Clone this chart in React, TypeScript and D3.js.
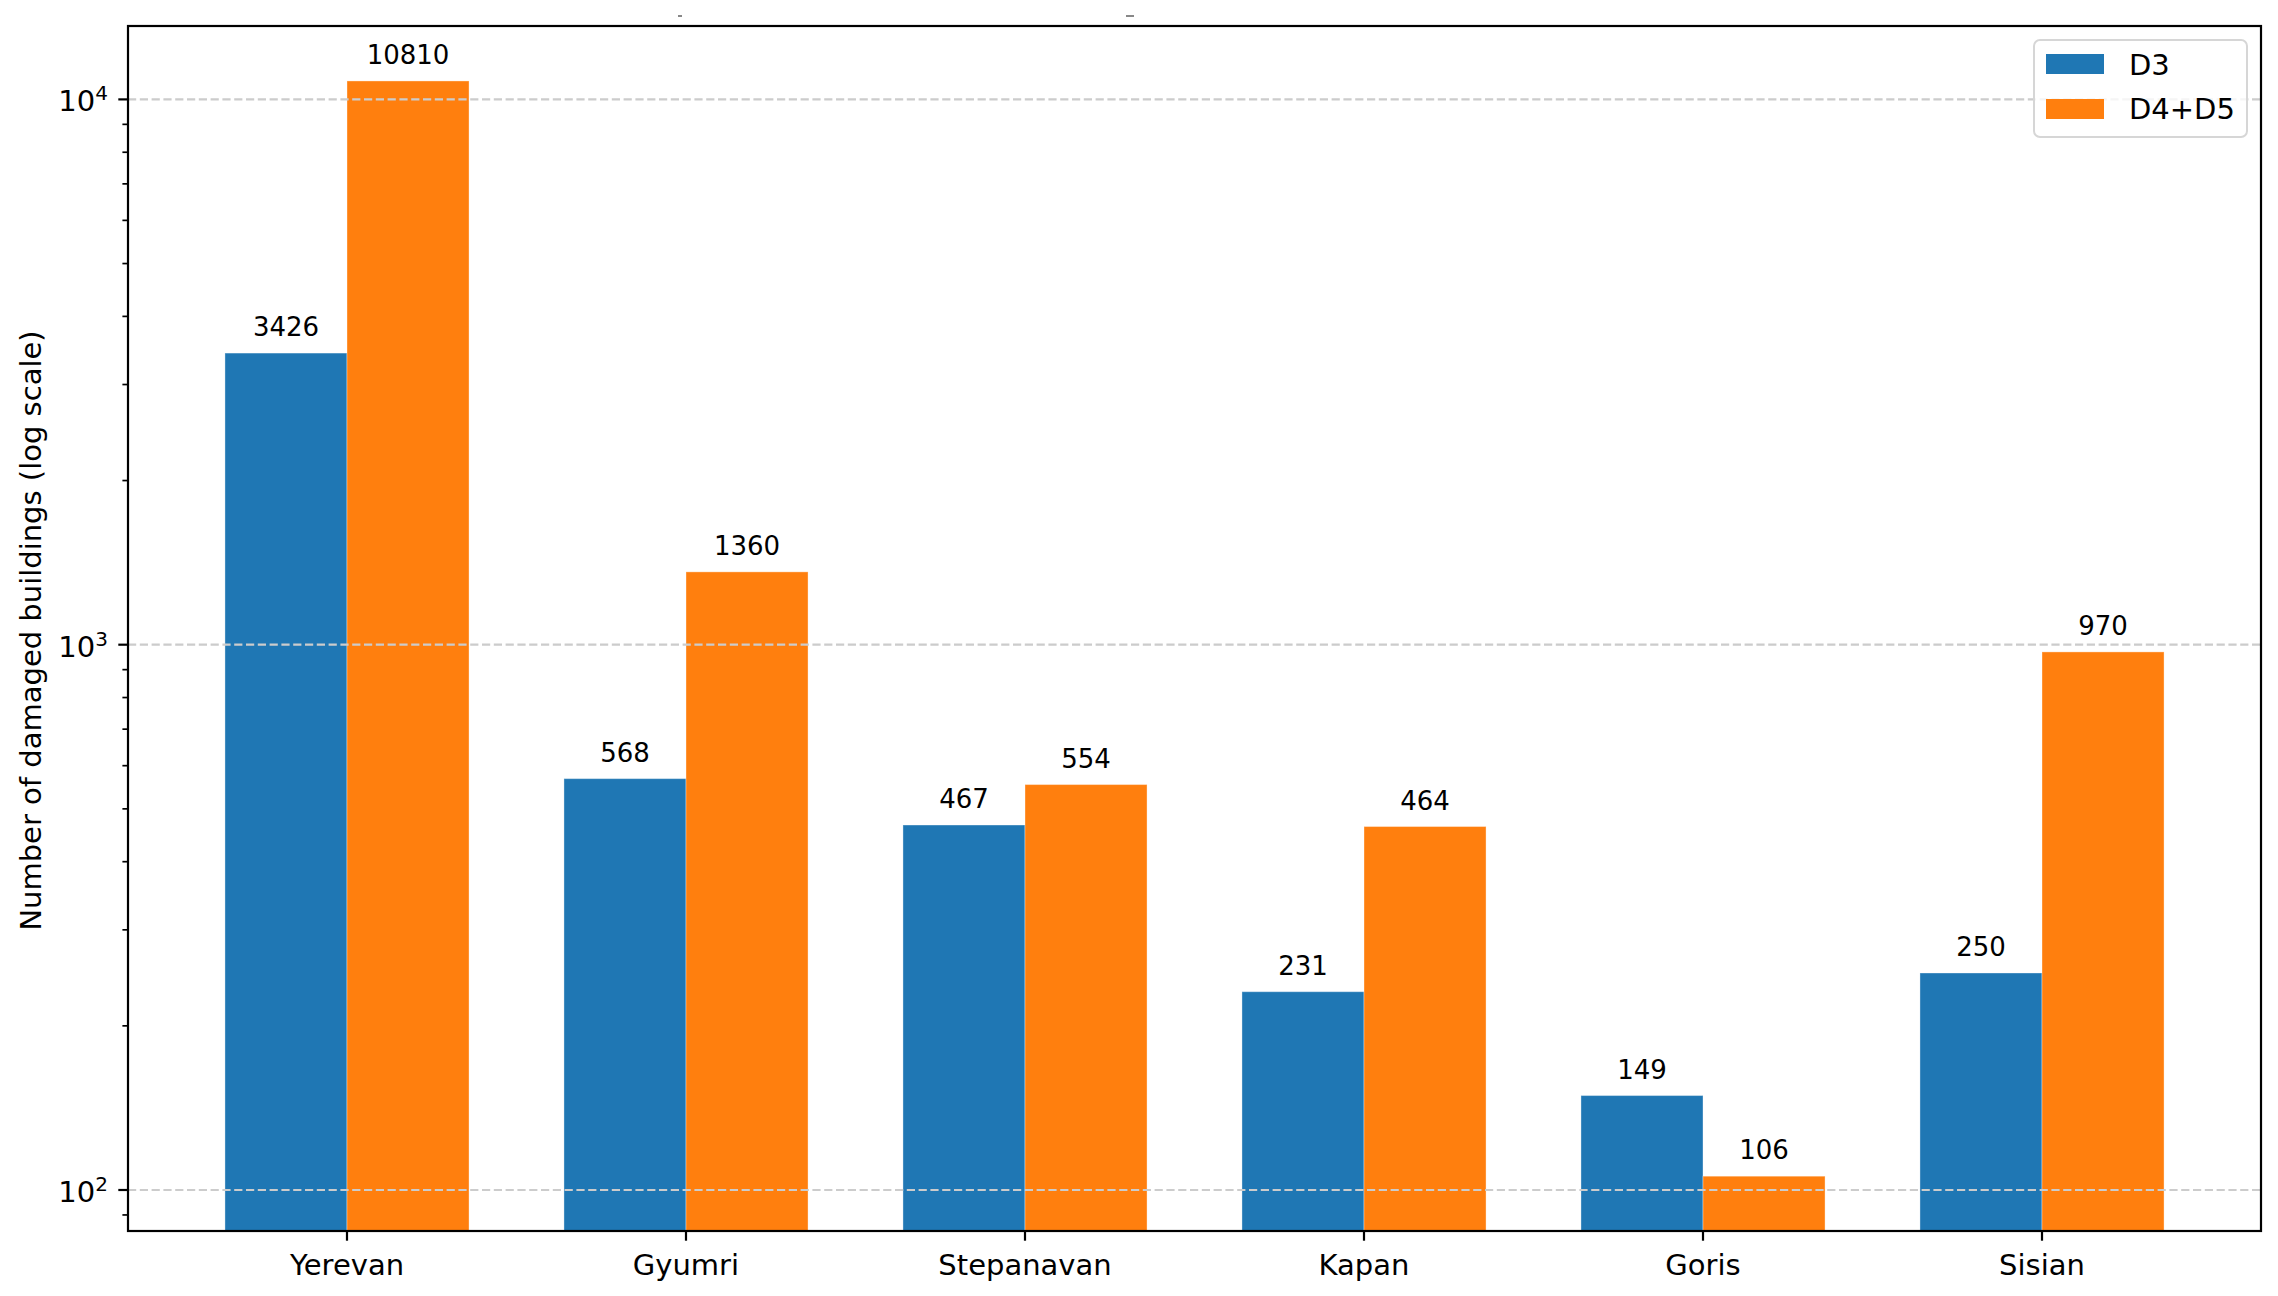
import React from "react";
import * as d3 from "d3";

const categories = ["Yerevan", "Gyumri", "Stepanavan", "Kapan", "Goris", "Sisian"];
const d3Values = [3426, 568, 467, 231, 149, 250];
const d45Values = [10810, 1360, 554, 464, 106, 970];
const seriesNames = ["D3", "D4+D5"];
const seriesColors = ["#1f77b4", "#ff7f0e"];
const majorTicks = [100, 1000, 10000];
const majorExp = ["2", "3", "4"];

const W = 2278;
const H = 1296;
const L = 128, R = 2261, T = 26, B = 1231;
const FONT = "DejaVu Sans, sans-serif";
const BAR_W = 0.36;

export default function App() {
  const x = d3.scaleLinear().domain([-0.646, 5.646]).range([L, R]);
  const y = d3.scaleLog().domain([Math.pow(10, 1.9248), Math.pow(10, 4.1346)]).range([B, T]);

  const minor: number[] = [];
  for (let e = 1; e <= 4; e++) {
    for (let m = 2; m <= 9; m++) {
      const v = m * Math.pow(10, e);
      if (v >= y.domain()[0] && v <= y.domain()[1]) minor.push(v);
    }
  }

  const series = [d3Values, d45Values];
  const px = (v: number) => x(v) - x(0);

  return (
    <svg width={W} height={H} style={{ position: "fixed", left: 0, top: 0, background: "#fff" }} fontFamily={FONT}>
      <rect x={0} y={0} width={W} height={H} fill="#fff" />
      {/* tiny remnants above plot */}
      <rect x={678} y={15} width={4} height={2} fill="#888" />
      <rect x={1126} y={15} width={8} height={2} fill="#888" />

      {/* bars */}
      {series.map((vals, si) =>
        vals.map((v, i) => {
          const cx = i + (si === 0 ? -BAR_W / 2 : BAR_W / 2);
          const x0 = x(cx - BAR_W / 2);
          const yt = y(v);
          return (
            <rect
              key={`b${si}-${i}`}
              x={x0}
              y={yt}
              width={px(BAR_W)}
              height={B - yt}
              fill={seriesColors[si]}
              stroke="#ffffff"
              strokeOpacity={0.35}
              strokeWidth={1}
            />
          );
        })
      )}

      {/* grid */}
      {majorTicks.map((t) => (
        <line key={`g${t}`} x1={L} x2={R} y1={y(t)} y2={y(t)} stroke="#cccccc" strokeWidth={2.2} strokeDasharray="8.2,3.6" />
      ))}

      {/* bar labels */}
      {series.map((vals, si) =>
        vals.map((v, i) => {
          const cx = i + (si === 0 ? -BAR_W / 2 : BAR_W / 2);
          return (
            <text key={`l${si}-${i}`} x={x(cx)} y={y(v) - 17} textAnchor="middle" fontSize={26} fill="#000">
              {v}
            </text>
          );
        })
      )}

      {/* spines */}
      <rect x={L} y={T} width={R - L} height={B - T} fill="none" stroke="#000" strokeWidth={2.2} />

      {/* y ticks */}
      {majorTicks.map((t, k) => (
        <g key={`yt${t}`}>
          <line x1={L - 9.7} x2={L} y1={y(t)} y2={y(t)} stroke="#000" strokeWidth={2.2} />
          <text x={108} y={y(t) + 12} textAnchor="end" fontSize={29} fill="#000">
            10
            <tspan dy={-11} fontSize={20}>{majorExp[k]}</tspan>
          </text>
        </g>
      ))}
      {minor.map((t) => (
        <line key={`ym${t}`} x1={L - 5.6} x2={L} y1={y(t)} y2={y(t)} stroke="#000" strokeWidth={1.7} />
      ))}

      {/* x ticks */}
      {categories.map((c, i) => (
        <g key={`xt${c}`}>
          <line x1={x(i)} x2={x(i)} y1={B} y2={B + 9.7} stroke="#000" strokeWidth={2.2} />
          <text x={x(i)} y={1275} textAnchor="middle" fontSize={29} fill="#000">
            {c}
          </text>
        </g>
      ))}

      {/* y label */}
      <text
        transform={`translate(41, ${(T + B) / 2 + 2}) rotate(-90)`}
        textAnchor="middle"
        fontSize={29}
        fill="#000"
      >
        Number of damaged buildings (log scale)
      </text>

      {/* legend */}
      <rect x={2034} y={40} width={213} height={97} rx={6} ry={6} fill="#fff" fillOpacity={0.8} stroke="#d6d6d6" strokeWidth={2} />
      {seriesNames.map((n, k) => (
        <g key={`lg${n}`}>
          <rect x={2046} y={k === 0 ? 54 : 99} width={58} height={20} fill={seriesColors[k]} />
          <text x={2129} y={k === 0 ? 75 : 119} fontSize={29} fill="#000">
            {n}
          </text>
        </g>
      ))}
    </svg>
  );
}
